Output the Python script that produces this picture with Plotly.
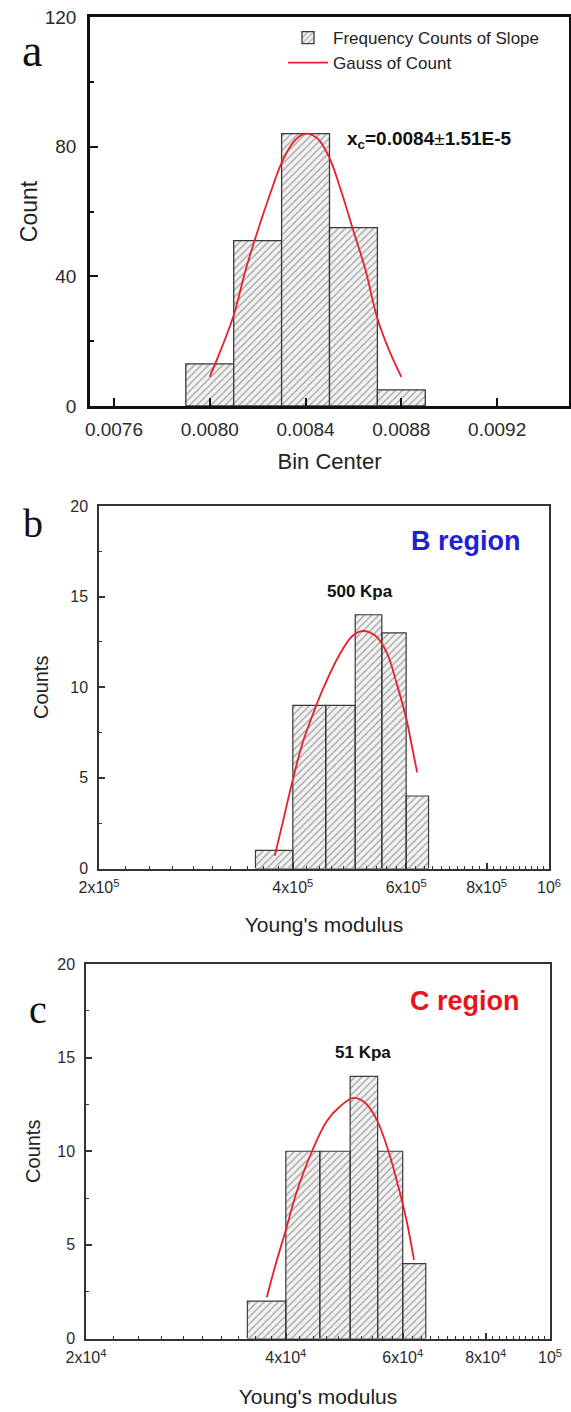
import math
import plotly.graph_objects as go

W, H = 571, 1412

# ---------------- data ----------------
# panel a
a_centers = [0.0080, 0.0082, 0.0084, 0.0086, 0.0088]
a_counts = [13, 51, 84, 55, 5]
a_bin_width = 0.0002
a_fit_x = [0.00800, 0.00805, 0.00810, 0.00815, 0.00820, 0.00825, 0.00830, 0.00835, 0.00840,
           0.00845, 0.00850, 0.00855, 0.00860, 0.00865, 0.00870, 0.00875, 0.00880]
a_fit_y = [9.0, 18, 28, 42, 54, 65, 75, 81.5, 84, 82.5, 76.5, 66, 54, 42, 27, 17, 9]
a_xticks = [0.0076, 0.0080, 0.0084, 0.0088, 0.0092]
a_xticktext = ["0.0076", "0.0080", "0.0084", "0.0088", "0.0092"]
a_yticks = [0, 40, 80, 120]
a_yminor = [20, 60, 100]

# panel b
b_centers = [3.75e5, 4.25e5, 4.75e5, 5.25e5, 5.75e5, 6.25e5]
b_counts = [1, 9, 9, 14, 13, 4]
b_bin_width = 5e4
b_fit_x = [3.75e5, 3.85e5, 4.00e5, 4.14e5, 4.34e5, 4.48e5, 4.71e5, 4.94e5, 5.12e5, 5.37e5,
           5.60e5, 5.80e5, 6.00e5, 6.12e5, 6.24e5]
b_fit_y = [0.7, 2.4, 4.9, 6.9, 8.9, 10.1, 11.7, 12.8, 13.1, 12.85, 11.9, 10.2, 8.3, 6.8, 5.3]
b_xticks = [2e5, 4e5, 6e5, 8e5, 1e6]
b_xticktext = ["2x10<sup>5</sup>", "4x10<sup>5</sup>", "6x10<sup>5</sup>", "8x10<sup>5</sup>", "10<sup>6</sup>"]

# panel c
c_centers = [3.75e4, 4.25e4, 4.75e4, 5.25e4, 5.75e4, 6.25e4]
c_counts = [2, 10, 10, 14, 10, 4]
c_bin_width = 5e3
c_fit_x = [3.745e4, 3.85e4, 4.00e4, 4.16e4, 4.38e4, 4.61e4, 4.83e4, 5.06e4, 5.26e4, 5.48e4,
           5.71e4, 5.91e4, 6.08e4, 6.24e4]
c_fit_y = [2.2, 3.8, 5.8, 7.9, 10.0, 11.6, 12.4, 12.85, 12.6, 11.7, 10.0, 8.1, 6.3, 4.2]
c_xticks = [2e4, 4e4, 6e4, 8e4, 1e5]
c_xticktext = ["2x10<sup>4</sup>", "4x10<sup>4</sup>", "6x10<sup>4</sup>", "8x10<sup>4</sup>", "10<sup>5</sup>"]

bc_yticks = [0, 5, 10, 15, 20]
bc_yminor = [2.5, 7.5, 12.5, 17.5]

# ---------------- styling ----------------
SANS = "Liberation Sans, Arial, sans-serif"
SERIF = "Liberation Serif, Times New Roman, serif"
RED = "#e8202a"
HATCH_FG = "#666666"
HATCH_BG = "#f3f3f3"
EDGE = "#3a3a3a"


def px(x):
    return x / W


def py(y):
    return 1 - y / H


def hist_polygon(centers, counts, width):
    xs, ys = [], []
    for c, h in zip(centers, counts):
        l, r = c - width / 2, c + width / 2
        xs += [l, l, r, r, l, None]
        ys += [0, h, h, 0, 0, None]
    return xs, ys


def minor_vals(lo, hi, step):
    vals = []
    v = lo + step
    while v < hi - step / 2:
        vals.append(v)
        v += step
    return vals


fig = go.Figure()

# panel a
fig.add_trace(go.Bar(
    x=a_centers, y=a_counts, width=a_bin_width,
    name="Frequency Counts of Slope",
    marker=dict(color=HATCH_BG,
                pattern=dict(shape="/", fgcolor=HATCH_FG, bgcolor=HATCH_BG, size=5, solidity=0.3),
                line=dict(color=EDGE, width=1.3)),
    xaxis="x", yaxis="y", showlegend=True,
))
fig.add_trace(go.Scatter(
    x=a_fit_x, y=a_fit_y, mode="lines", name="Gauss of Count",
    line=dict(color=RED, width=1.8, shape="spline", smoothing=1.0),
    xaxis="x", yaxis="y", showlegend=True,
))

# panel b
bx, by = hist_polygon(b_centers, b_counts, b_bin_width)
fig.add_trace(go.Scatter(
    x=bx, y=by, mode="lines", fill="toself", fillcolor=HATCH_BG,
    fillpattern=dict(shape="/", fgcolor=HATCH_FG, bgcolor=HATCH_BG, size=5, solidity=0.3),
    line=dict(color=EDGE, width=1.2), xaxis="x2", yaxis="y2", showlegend=False,
))
fig.add_trace(go.Scatter(
    x=b_fit_x, y=b_fit_y, mode="lines",
    line=dict(color=RED, width=1.8, shape="spline", smoothing=1.0),
    xaxis="x2", yaxis="y2", showlegend=False,
))

# panel c
cx, cy = hist_polygon(c_centers, c_counts, c_bin_width)
fig.add_trace(go.Scatter(
    x=cx, y=cy, mode="lines", fill="toself", fillcolor=HATCH_BG,
    fillpattern=dict(shape="/", fgcolor=HATCH_FG, bgcolor=HATCH_BG, size=5, solidity=0.3),
    line=dict(color=EDGE, width=1.2), xaxis="x3", yaxis="y3", showlegend=False,
))
fig.add_trace(go.Scatter(
    x=c_fit_x, y=c_fit_y, mode="lines",
    line=dict(color=RED, width=1.8, shape="spline", smoothing=1.0),
    xaxis="x3", yaxis="y3", showlegend=False,
))

tickfont_a = dict(family=SANS, size=19, color="#2a2a2a")
tickfont_bc = dict(family=SANS, size=16, color="#2a2a2a")

common_a = dict(showgrid=False, zeroline=False, ticks="inside", mirror=True,
                linecolor="#111", linewidth=2.5, tickcolor="#111", tickwidth=2.2, ticklen=8,
                automargin=False, tickfont=tickfont_a)
common_bc = dict(showgrid=False, zeroline=False, ticks="inside", mirror=True,
                 linecolor="#333", linewidth=1.5, tickcolor="#333", tickwidth=1.5, ticklen=6,
                 automargin=False, tickfont=tickfont_bc)

minor_bc = dict(ticks="inside", ticklen=3, tickwidth=1.2, tickcolor="#333")

fig.update_layout(
    width=W, height=H, margin=dict(l=0, r=0, t=0, b=0),
    paper_bgcolor="white", plot_bgcolor="white",
    font=dict(family=SANS, color="#222"),
    barmode="overlay",
    legend=dict(x=px(283), y=py(20), xanchor="left", yanchor="top",
                bgcolor="rgba(0,0,0,0)", font=dict(family=SANS, size=17, color="#222"),
                itemwidth=40, tracegroupgap=0),
    xaxis=dict(domain=[px(90), px(569)], anchor="y", range=[0.0075, 0.0095],
               tickvals=a_xticks, ticktext=a_xticktext, ticklabelstandoff=4,
               title=dict(text="Bin Center", font=dict(family=SANS, size=22, color="#222"), standoff=16),
               **common_a),
    yaxis=dict(domain=[py(406), py(17)], anchor="x", range=[0, 120],
               tickvals=a_yticks, ticklabelstandoff=7,
               minor=dict(tickvals=a_yminor, ticks="inside", ticklen=4, tickwidth=2, tickcolor="#111"),
               title=dict(text="Count", font=dict(family=SANS, size=23, color="#222"), standoff=1),
               **common_a),
    xaxis2=dict(domain=[px(99), px(549)], anchor="y2", type="log",
                range=[math.log10(2e5), 6.0],
                tickvals=b_xticks, ticktext=b_xticktext, ticklabelstandoff=4,
                minor=dict(tickvals=minor_vals(2e5, 1e6, 2e4), **minor_bc),
                title=dict(text="Young's modulus", font=dict(family=SANS, size=21, color="#222"), standoff=22),
                **common_bc),
    yaxis2=dict(domain=[py(868.5), py(506)], anchor="x2", range=[0, 20],
                tickvals=bc_yticks, ticklabelstandoff=6,
                minor=dict(tickvals=bc_yminor, **minor_bc),
                title=dict(text="Counts", font=dict(family=SANS, size=20, color="#222"), standoff=16),
                **common_bc),
    xaxis3=dict(domain=[px(86), px(550)], anchor="y3", type="log",
                range=[math.log10(2e4), 5.0],
                tickvals=c_xticks, ticktext=c_xticktext, ticklabelstandoff=4,
                minor=dict(tickvals=minor_vals(2e4, 1e5, 2e3), **minor_bc),
                title=dict(text="Young's modulus", font=dict(family=SANS, size=21, color="#222"), standoff=24),
                **common_bc),
    yaxis3=dict(domain=[py(1338.5), py(964)], anchor="x3", range=[0, 20],
                tickvals=bc_yticks, ticklabelstandoff=6,
                minor=dict(tickvals=bc_yminor, **minor_bc),
                title=dict(text="Counts", font=dict(family=SANS, size=20, color="#222"), standoff=11),
                **common_bc),
)

annotations = [
    dict(text="a", x=px(32), y=py(50), font=dict(family=SERIF, size=46, color="#111")),
    dict(text="b", x=px(33), y=py(523), font=dict(family=SERIF, size=40, color="#111")),
    dict(text="c", x=px(38), y=py(1009), font=dict(family=SERIF, size=40, color="#111")),
    dict(text="<b>x<sub>c</sub>=0.0084</b>±<b>1.51E-5</b>", x=px(345), y=py(140), xanchor="left",
         font=dict(family=SANS, size=19, color="#111")),
    dict(text="<b>B region</b>", x=px(466), y=py(541), font=dict(family=SANS, size=27, color="#1f1fd6")),
    dict(text="<b>500 Kpa</b>", x=px(360), y=py(591), font=dict(family=SANS, size=17, color="#111")),
    dict(text="<b>C region</b>", x=px(465), y=py(1001), font=dict(family=SANS, size=27, color="#e8141c")),
    dict(text="<b>51 Kpa</b>", x=px(363), y=py(1052), font=dict(family=SANS, size=17, color="#111")),
]
for a in annotations:
    a.update(xref="paper", yref="paper", showarrow=False)
    a.setdefault("xanchor", "center")
    a.setdefault("yanchor", "middle")
fig.update_layout(annotations=annotations)

fig.write_html("out.html")
